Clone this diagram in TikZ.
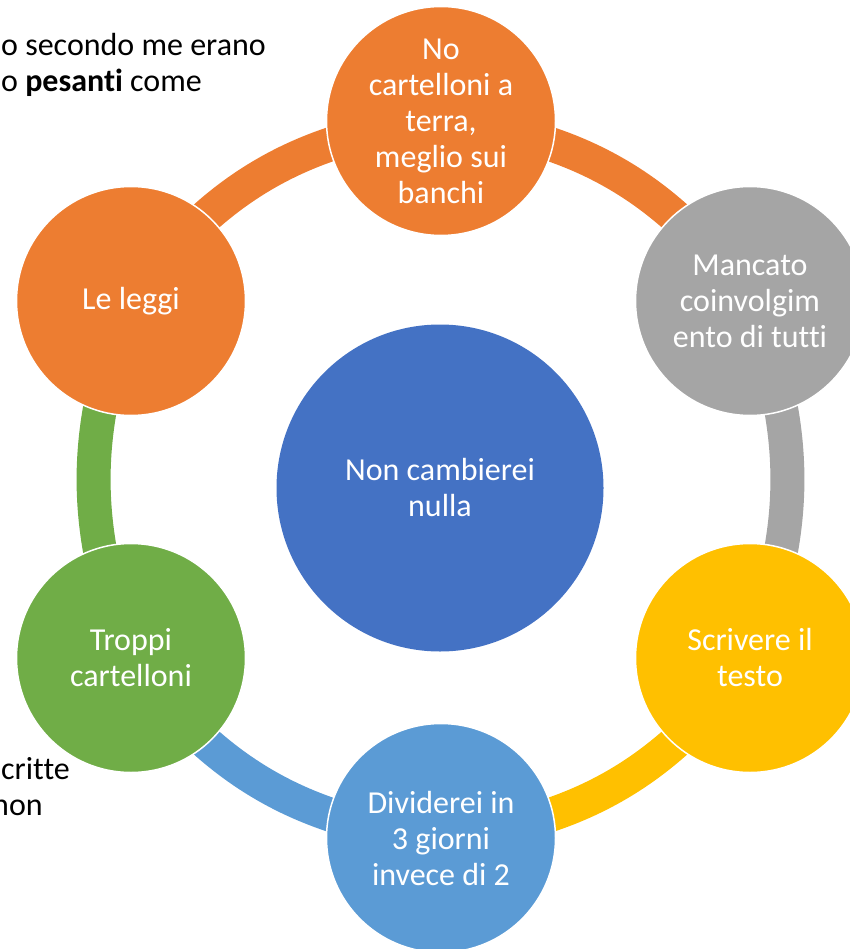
\documentclass[tikz,border=0pt]{standalone}
\usepackage{fontspec}
\setmainfont[Ligatures=NoCommon]{Carlito}
\usetikzlibrary{backgrounds}
\definecolor{CO}{HTML}{ED7D31}
\definecolor{CG}{HTML}{A5A5A5}
\definecolor{CY}{HTML}{FFC000}
\definecolor{CL}{HTML}{5B9BD5}
\definecolor{CV}{HTML}{70AD47}
\definecolor{CB}{HTML}{4472C4}

\begin{document}
\begin{tikzpicture}[x=1pt,y=-1pt,
    bubble/.style={circle,draw=white,line width=1.5pt,minimum size=229pt,
      inner sep=0pt,text=white,align=center,
      font=\fontsize{32}{36}\selectfont},
    ringarc/.style={line width=34pt},
    sidenote/.style={anchor=base west,inner sep=0pt,align=left,
      font=\fontsize{32}{36}\selectfont}]
  \useasboundingbox (0,0) rectangle (850,949);
  \clip (0,0) rectangle (850,949);

  % testo tagliato a sinistra
  \node[sidenote] (notasu) at (1,92) {o secondo me erano\\o \textbf{pesanti} come};
  \node[sidenote] (notagiu) at (1,815) {critte\\\hspace*{-9pt}non};

  % cerchi
  \node[bubble,fill=CO] (banchi) at (441,121)
    {No\\cartelloni a\\terra,\\meglio sui\\banchi};
  \node[bubble,fill=CG] (coinv) at (750,301)
    {Mancato\\coinvolgim\\ento di tutti};
  \node[bubble,fill=CY] (testo) at (750,658) {Scrivere il\\testo};
  \node[bubble,fill=CL] (giorni) at (441,838)
    {Dividerei in\\3 giorni\\invece di 2};
  \node[bubble,fill=CV] (troppi) at (131,658) {Troppi\\cartelloni};
  \node[bubble,fill=CO] (leggi) at (131,301) {Le leggi};
  \node[bubble,fill=CB,minimum size=327pt,draw=none] (nulla) at (440,488)
    {Non cambierei\\nulla};

  % anello
  \begin{scope}[on background layer]
    \foreach \a/\b/\c/\k in {banchi/coinv/CO/24,coinv/testo/CG/21,
        testo/giorni/CY/24,giorni/troppi/CL/24,troppi/leggi/CV/21,
        leggi/banchi/CO/24}{
      \draw[ringarc,\c] (\a.center) to[bend left=\k] (\b.center);
    }
  \end{scope}
\end{tikzpicture}
\end{document}
